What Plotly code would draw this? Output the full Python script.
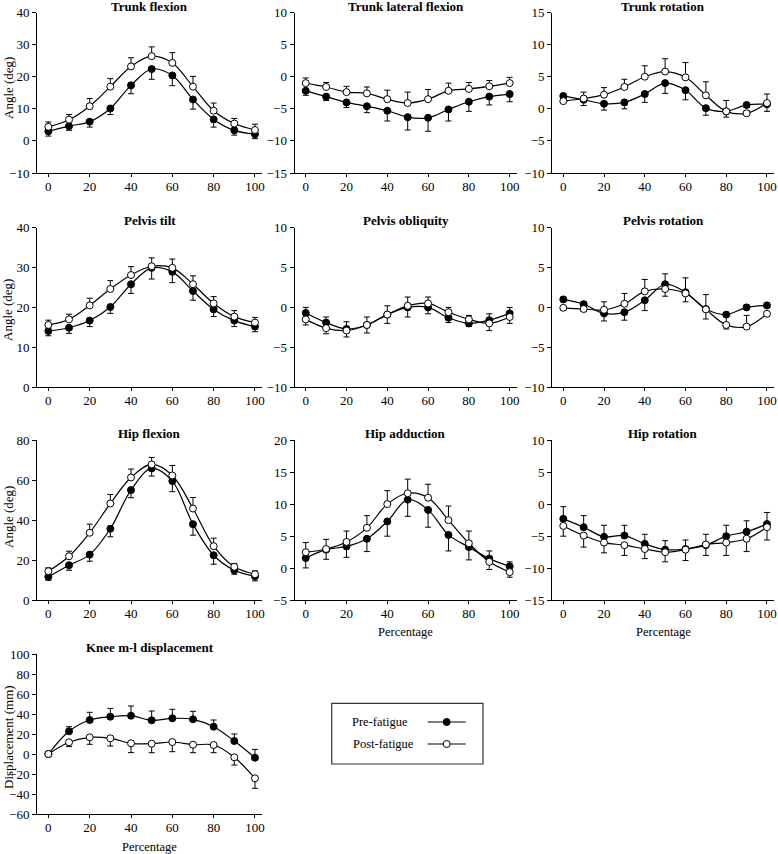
import plotly.graph_objects as go

W, H = 778, 854
FONT = "Liberation Serif"

pct = [0, 10, 20, 30, 40, 50, 60, 70, 80, 90, 100]
x_ticks = [0, 20, 40, 60, 80, 100]

# Trunk flexion
tf_pre = [3.0, 4.6, 6.0, 10.1, 17.3, 22.4, 20.4, 12.9, 6.7, 3.3, 2.1]
tf_pre_sd = [1.5, 1.3, 1.7, 1.9, 2.6, 3.2, 3.2, 3.0, 2.4, 1.5, 1.4]
tf_post = [4.4, 6.6, 10.8, 16.9, 23.2, 26.4, 24.3, 16.9, 9.4, 5.4, 3.4]
tf_post_sd = [1.5, 1.6, 2.4, 2.5, 2.7, 2.9, 3.2, 3.2, 2.4, 1.6, 1.8]

# Trunk lateral flexion
tl_pre = [-2.2, -3.1, -4.0, -4.6, -5.3, -6.3, -6.4, -5.1, -3.9, -3.1, -2.7]
tl_pre_sd = [0.7, 0.6, 0.8, 1.0, 1.6, 2.0, 2.1, 1.8, 1.5, 1.3, 1.2]
tl_post = [-1.0, -1.6, -2.4, -2.6, -3.5, -4.1, -3.5, -2.2, -1.9, -1.5, -1.0]
tl_post_sd = [0.8, 0.7, 0.9, 1.0, 1.4, 1.7, 1.5, 1.2, 1.0, 0.9, 0.9]

# Trunk rotation
tr_pre = [2.0, 1.4, 0.8, 1.0, 2.3, 4.0, 2.9, 0.1, -0.4, 0.6, 0.7]
tr_pre_sd = [0.4, 0.9, 1.0, 1.0, 1.3, 1.6, 1.5, 1.1, 0.9, 0.4, 1.1]
tr_post = [1.2, 1.6, 2.2, 3.4, 5.0, 5.8, 4.9, 2.1, -0.4, -0.7, 0.9]
tr_post_sd = [0.4, 1.0, 1.1, 1.2, 1.7, 2.0, 2.3, 2.1, 1.7, 0.4, 1.4]

# Pelvis tilt
pt_pre = [14.1, 14.9, 16.7, 20.1, 25.8, 29.9, 28.9, 24.1, 19.5, 16.7, 15.2]
pt_pre_sd = [1.2, 1.4, 1.5, 1.6, 2.3, 2.8, 2.7, 2.3, 1.8, 1.5, 1.3]
pt_post = [15.6, 17.0, 20.5, 24.6, 28.1, 30.3, 29.9, 25.8, 21.0, 17.7, 16.2]
pt_post_sd = [1.2, 1.3, 1.8, 2.1, 2.1, 2.1, 2.2, 2.1, 1.7, 1.5, 1.3]

# Pelvis obliquity
po_pre = [-0.7, -1.9, -2.7, -2.2, -0.9, 0.0, 0.0, -1.3, -2.0, -1.6, -0.75]
po_pre_sd = [0.7, 0.7, 0.9, 1.0, 1.1, 1.2, 0.8, 0.6, 0.4, 0.8, 0.75]
po_pre_dir = [1, 1, 1, 1, 1, -1, -1, -1, -1, 1, 1]
po_post = [-1.5, -2.6, -2.9, -2.2, -0.9, 0.2, 0.5, -0.6, -1.5, -2.0, -1.2]
po_post_sd = [0.7, 0.7, 0.8, 1.0, 1.1, 1.1, 0.8, 0.6, 0.5, 0.9, 0.8]
po_post_dir = [-1, -1, -1, -1, -1, 1, 1, 1, 1, -1, -1]

# Pelvis rotation
pr_pre = [1.0, 0.4, -0.75, -0.6, 0.9, 2.9, 1.9, -0.2, -0.9, 0.0, 0.25]
pr_pre_sd = [0.3, 0.3, 0.95, 1.0, 1.3, 1.3, 1.2, 1.25, 1.2, 0.3, 0.3]
pr_pre_dir = [1, 1, -1, -1, -1, 1, -1, -1, -1, 1, 1]
pr_post = [-0.05, -0.2, -0.3, 0.45, 2.0, 2.3, 1.75, -0.25, -2.2, -2.4, -0.8]
pr_post_sd = [0.3, 0.3, 1.0, 1.3, 1.5, 0.9, 1.95, 1.85, 0.5, 1.4, 0.3]
pr_post_dir = [-1, -1, 1, 1, 1, -1, 1, 1, -1, 1, -1]

# Hip flexion
hf_pre = [11.7, 17.5, 22.8, 35.7, 55.0, 65.8, 59.5, 38.0, 22.5, 15.0, 12.0]
hf_pre_sd = [1.7, 2.5, 3.3, 4.0, 3.8, 3.8, 5.3, 5.5, 4.5, 2.0, 2.3]
hf_post = [14.5, 22.0, 33.7, 48.3, 61.3, 67.8, 62.3, 45.8, 27.0, 16.7, 13.0]
hf_post_sd = [1.7, 2.5, 4.3, 4.5, 4.2, 3.5, 5.0, 5.5, 4.0, 1.7, 1.7]

# Hip adduction
ha_pre = [1.6, 2.9, 3.4, 4.6, 7.3, 10.7, 9.1, 5.2, 3.3, 1.5, 0.3]
ha_pre_sd = [1.55, 1.5, 1.7, 2.0, 2.3, 2.6, 2.7, 2.5, 2.0, 1.2, 0.7]
ha_pre_dir = [-1, -1, -1, -1, -1, -1, -1, -1, -1, 1, 1]
ha_post = [2.5, 3.0, 4.1, 6.3, 10.0, 11.7, 11.0, 7.5, 3.9, 1.0, -0.6]
ha_post_sd = [1.5, 1.5, 1.7, 1.9, 2.1, 2.2, 2.1, 2.2, 1.9, 1.2, 0.8]
ha_post_dir = [1, 1, 1, 1, 1, 1, 1, 1, 1, -1, -1]

# Hip rotation
hr_pre = [-2.3, -3.6, -5.1, -4.9, -6.2, -7.1, -7.0, -6.4, -5.0, -4.3, -3.1]
hr_pre_sd = [1.9, 1.8, 1.8, 1.6, 1.5, 1.4, 1.4, 1.7, 1.7, 1.7, 1.8]
hr_post = [-3.4, -4.9, -6.0, -6.4, -7.0, -7.5, -7.1, -6.3, -6.0, -5.4, -3.6]
hr_post_sd = [1.6, 1.8, 1.6, 1.6, 1.5, 1.5, 1.7, 1.7, 2.0, 2.0, 2.0]

# Knee m-l displacement
kn_pre = [0.0, 22.7, 34.0, 37.3, 38.3, 33.7, 35.7, 34.7, 27.3, 13.0, -3.7]
kn_pre_sd = [0.0, 4.6, 7.7, 8.3, 9.7, 9.3, 9.0, 8.0, 6.7, 7.0, 8.3]
kn_post = [0.0, 11.7, 16.7, 15.7, 10.7, 10.3, 12.0, 9.3, 9.0, -3.3, -24.3]
kn_post_sd = [0.0, 4.3, 7.0, 7.7, 9.3, 9.0, 9.7, 8.0, 7.7, 7.7, 10.0]

titles = ["Trunk flexion", "Trunk lateral flexion", "Trunk rotation",
          "Pelvis tilt", "Pelvis obliquity", "Pelvis rotation",
          "Hip flexion", "Hip adduction", "Hip rotation",
          "Knee m-l displacement"]

panels = [
    (tf_pre, tf_pre_sd, -1, tf_post, tf_post_sd, 1, [-10, 40], 10),
    (tl_pre, tl_pre_sd, -1, tl_post, tl_post_sd, 1, [-15, 10], 5),
    (tr_pre, tr_pre_sd, -1, tr_post, tr_post_sd, 1, [-10, 15], 5),
    (pt_pre, pt_pre_sd, -1, pt_post, pt_post_sd, 1, [0, 40], 10),
    (po_pre, po_pre_sd, po_pre_dir, po_post, po_post_sd, po_post_dir, [-10, 10], 5),
    (pr_pre, pr_pre_sd, pr_pre_dir, pr_post, pr_post_sd, pr_post_dir, [-10, 10], 5),
    (hf_pre, hf_pre_sd, -1, hf_post, hf_post_sd, 1, [0, 80], 20),
    (ha_pre, ha_pre_sd, ha_pre_dir, ha_post, ha_post_sd, ha_post_dir, [-5, 20], 5),
    (hr_pre, hr_pre_sd, 1, hr_post, hr_post_sd, -1, [-15, 10], 5),
    (kn_pre, kn_pre_sd, 1, kn_post, kn_post_sd, -1, [-60, 100], 20),
]

# layout geometry (pixels)
col_px = [(37.0, 262.2), (294.5, 516.8), (552.1, 774.1)]
row_px = [(12.5, 173.0), (227.5, 387.3), (440.0, 600.3), (654.0, 814.0)]
title_py = [6, 221, 433, 647]
ytitle_py = [88, 310, 517, 737]
XRANGE = [-5.5, 103.5]


def px2x(p):
    return p / W


def py2y(p):
    return 1 - p / H


def split_err(sd, d):
    if not isinstance(d, list):
        d = [d] * len(sd)
    up = [s if k > 0 else 0 for s, k in zip(sd, d)]
    dn = [s if k < 0 else 0 for s, k in zip(sd, d)]
    return up, dn


fig = go.Figure()
layout = dict(
    width=W, height=H, margin=dict(l=0, r=0, t=0, b=0, autoexpand=False),
    paper_bgcolor="white", plot_bgcolor="white", showlegend=False,
    font=dict(family=FONT, size=13, color="black"),
)
annotations = []
shapes = []

for i, (pre, pre_sd, pre_dir, post, post_sd, post_dir, yr, dt) in enumerate(panels):
    r, c = divmod(i, 3)
    n = i + 1
    xa = "x" if n == 1 else f"x{n}"
    ya = "y" if n == 1 else f"y{n}"
    x0, x1 = col_px[c]
    y0, y1 = row_px[r]
    axstyle = dict(showline=True, linecolor="black", linewidth=1, ticks="outside",
                   tickcolor="black", tickwidth=1, showgrid=False,
                   zeroline=False, automargin=False, ticklabeloverflow="allow",
                   tickfont=dict(family=FONT, size=13, color="black"))
    layout["xaxis" if n == 1 else f"xaxis{n}"] = dict(
        domain=[px2x(x0), px2x(x1)], range=XRANGE, tickvals=x_ticks,
        anchor=ya, ticklen=3, ticklabelstandoff=-2, **axstyle)
    layout["yaxis" if n == 1 else f"yaxis{n}"] = dict(
        domain=[py2y(y1), py2y(y0)], range=yr, dtick=dt, tick0=yr[0],
        anchor=xa, ticklen=4, **axstyle)

    for vals in (pre, post):
        fig.add_trace(go.Scatter(x=pct, y=vals, mode="lines", xaxis=xa, yaxis=ya,
                                 line=dict(color="black", width=1.2, shape="spline", smoothing=1),
                                 hoverinfo="skip", cliponaxis=False))
    for vals, sd, d, fill, name in ((pre, pre_sd, pre_dir, "black", "Pre-fatigue"),
                                    (post, post_sd, post_dir, "white", "Post-fatigue")):
        up, dn = split_err(sd, d)
        fig.add_trace(go.Scatter(
            x=pct, y=vals, mode="markers", name=name, xaxis=xa, yaxis=ya,
            marker=dict(size=7, color=fill, line=dict(color="black", width=1)),
            error_y=dict(type="data", symmetric=False, array=up, arrayminus=dn,
                         color="black", thickness=1, width=3),
            cliponaxis=False))

    cx = (x0 + x1) / 2
    annotations.append(dict(text=titles[i], x=px2x(cx), y=py2y(title_py[r]),
                            xref="paper", yref="paper", showarrow=False,
                            xanchor="center", yanchor="middle",
                            font=dict(family=FONT, size=13, color="black", weight="bold")))

# y-axis titles
for r in range(4):
    annotations.append(dict(text="Angle (deg)" if r < 3 else "Displacement (mm)",
                            x=px2x(8), y=py2y(ytitle_py[r]), xref="paper", yref="paper",
                            showarrow=False, textangle=-90, xanchor="center", yanchor="middle",
                            font=dict(family=FONT, size=13, color="black")))

# x-axis titles
for (c, py) in ((1, 632), (2, 632), (0, 847)):
    x0, x1 = col_px[c]
    annotations.append(dict(text="Percentage", x=px2x((x0 + x1) / 2), y=py2y(py),
                            xref="paper", yref="paper", showarrow=False,
                            xanchor="center", yanchor="middle",
                            font=dict(family=FONT, size=12.5, color="black")))

# legend box
shapes.append(dict(type="rect", xref="paper", yref="paper",
                   x0=px2x(331.7), x1=px2x(483), y0=py2y(764), y1=py2y(703.3),
                   line=dict(color="#333333", width=1.2), fillcolor="rgba(0,0,0,0)"))
for label, py, fill, tx in (("Pre-fatigue", 722, "black", 350), ("Post-fatigue", 744, "white", 351)):
    shapes.append(dict(type="line", xref="paper", yref="paper",
                       x0=px2x(427.7), x1=px2x(465.7), y0=py2y(py), y1=py2y(py),
                       line=dict(color="black", width=1.2)))
    shapes.append(dict(type="circle", xref="paper", yref="paper",
                       xsizemode="pixel", ysizemode="pixel",
                       xanchor=px2x(446.7), yanchor=py2y(py),
                       x0=-3.5, x1=3.5, y0=-3.5, y1=3.5,
                       fillcolor=fill, line=dict(color="black", width=1)))
    annotations.append(dict(text=label, x=px2x(tx), y=py2y(py), xref="paper", yref="paper",
                            showarrow=False, xanchor="left", yanchor="middle",
                            font=dict(family=FONT, size=12.5, color="black")))

layout["annotations"] = annotations
layout["shapes"] = shapes
fig.update_layout(**layout)
fig.write_html("out.html", config={"displayModeBar": False},
               post_script="document.body.style.margin='0px';document.body.style.padding='0px';")
